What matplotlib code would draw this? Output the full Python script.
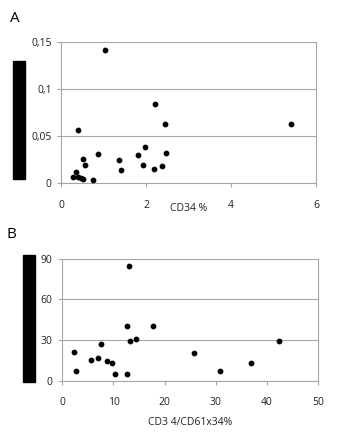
import matplotlib
matplotlib.use("Agg")
import matplotlib.pyplot as plt
from matplotlib.patches import Rectangle

# Panel A data
cd34_pct = [0.26, 0.35, 0.40, 0.45, 0.50, 0.40, 0.51, 0.56, 0.74, 0.87, 1.03,
            1.35, 1.40, 1.80, 1.93, 1.98, 2.17, 2.20, 2.38, 2.44, 2.46, 5.42]
val_a = [0.006, 0.0117, 0.006, 0.005, 0.004, 0.056, 0.025, 0.019, 0.003, 0.031, 0.1415,
         0.024, 0.014, 0.030, 0.019, 0.038, 0.015, 0.084, 0.018, 0.0624, 0.032, 0.063]

# Panel B data
cd34_cd61 = [2.3, 2.7, 5.6, 6.9, 7.55, 8.7, 9.7, 10.2, 12.56, 12.56, 13.0,
             13.3, 14.3, 17.8, 25.8, 30.8, 36.8, 42.3]
val_b = [21.1, 7.1, 15.5, 16.5, 27.0, 14.8, 13.0, 4.7, 40.6, 4.7, 84.6,
         29.5, 30.5, 40.6, 20.7, 7.1, 13.0, 29.0]

xticks_a = [0, 2, 4, 6]
yticks_a = [0, 0.05, 0.1, 0.15]
ytick_labels_a = ["0", "0,05", "0,1", "0,15"]
xticks_b = [0, 10, 20, 30, 40, 50]
yticks_b = [0, 30, 60, 90]

plt.rcParams['font.family'] = ['Open Sans', 'DejaVu Sans']
grey = '#a6a6a6'

fig = plt.figure(figsize=(3.48, 4.4), dpi=100)


def style(ax):
    for side in ['left', 'bottom', 'right']:
        ax.spines[side].set_color(grey)
        ax.spines[side].set_linewidth(0.8)
    ax.spines['top'].set_visible(False)
    ax.yaxis.grid(True, color=grey, linewidth=0.8)
    ax.set_axisbelow(True)
    ax.tick_params(axis='both', colors=grey, labelcolor='#222222', labelsize=7.5,
                   length=3, width=0.8)
    ax.tick_params(axis='x', pad=9)
    ax.tick_params(axis='y', pad=4)


ax1 = fig.add_axes([0.1767, 0.5841, 0.7313, 0.3205])
ax1.scatter(cd34_pct, val_a, s=10, color='black', zorder=3, clip_on=False)
ax1.set_xlim(0, 6)
ax1.set_ylim(0, 0.15)
ax1.set_xticks(xticks_a)
ax1.set_yticks(yticks_a)
ax1.set_yticklabels(ytick_labels_a)
style(ax1)
ax1.set_xlabel('CD34 %', fontsize=7.5, color='#222222')
ax1.xaxis.set_label_coords(0.501, -0.14)

ax2 = fig.add_axes([0.179, 0.1348, 0.7356, 0.2773])
ax2.scatter(cd34_cd61, val_b, s=10, color='black', zorder=3, clip_on=False)
ax2.set_xlim(0, 50)
ax2.set_ylim(0, 90)
ax2.set_xticks(xticks_b)
ax2.set_yticks(yticks_b)
style(ax2)
ax2.set_xlabel('CD3 4/CD61x34%', fontsize=7.5, color='#222222')
ax2.xaxis.set_label_coords(0.5, -0.3)

# black boxes covering the y-axis titles
fig.add_artist(Rectangle((0.0382, 0.5939), 0.0345, 0.2675, transform=fig.transFigure,
                         color='black'))
fig.add_artist(Rectangle((0.067, 0.1318), 0.0336, 0.288, transform=fig.transFigure,
                         color='black'))

fig.text(15 / 348, 1 - 18 / 440, 'A', fontsize=11, ha='center', va='center')
fig.text(11 / 348, 1 - 234 / 440, 'B', fontsize=11, ha='center', va='center')

fig.savefig('out.png', dpi=100)
plt.close(fig)
